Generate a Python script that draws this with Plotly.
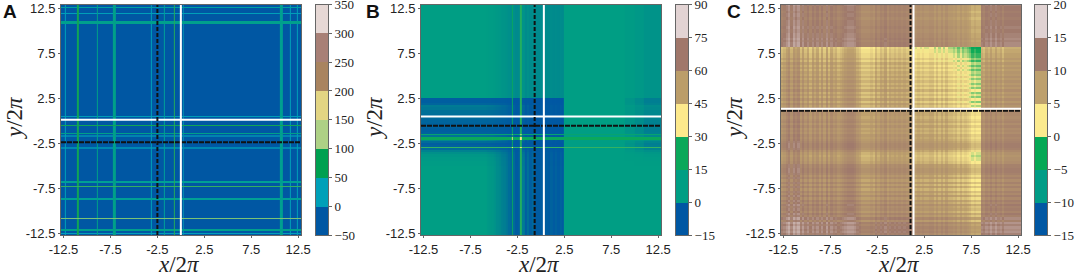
import numpy as np
import plotly.graph_objects as go

W, H = 1079, 277
TICKS = [-12.5, -7.5, -2.5, 2.5, 7.5, 12.5]
TICK_TEXT = ["-12.5", "-7.5", "-2.5", "2.5", "7.5", "12.5"]

# ---------- colour bars ----------
levels_a = [-50, 0, 50, 100, 150, 200, 250, 300, 350]
colors_a = ["#0057a3", "#00a0b8", "#00a050", "#aed185", "#e3d583", "#a9845f", "#a88076", "#e6d8d5"]
levels_b = [-15, 0, 15, 30, 45, 60, 75, 90]
colors_b = ["#0057a3", "#009e84", "#0ba85a", "#fde98c", "#bb9d69", "#a0776a", "#e2d3d3"]
levels_c = [-15, -10, -5, 0, 5, 10, 15, 20]
colors_c = ["#0057a3", "#009c86", "#05a855", "#fbea8e", "#bda06d", "#a07a6c", "#e0d2d2"]

# ---------- panel A: stripes (centre, width, value) ----------
a_x_pos = [-12.29, -10.95, -8.88, -7.10, -3.14, -1.72, -0.66, 0.30, 10.69, 11.68, 12.39]
a_x_wid = [0.12, 0.16, 0.14, 0.34, 0.12, 0.12, 0.10, 0.10, 0.34, 0.12, 0.12]
a_x_val = [25, 80, 48, 48, 25, 40, 85, 12, 44, 24, 24]
a_y_pos = [12.61, 11.94, 10.90, 0.52, -0.48, -1.40, -1.70, -3.00, -6.79, -7.27, -8.75, -10.86, -12.16, -12.55]
a_y_wid = [0.16, 0.13, 0.34, 0.10, 0.12, 0.16, 0.25, 0.22, 0.28, 0.12, 0.22, 0.12, 0.14, 0.20]
a_y_val = [36, 24, 46, 22, 80, 48, 5, 8, 42, 90, 42, 110, 46, 24]
a_background = -25
a_lines = {"black_x": -2.5, "black_y": -2.4, "white_x": 0.0, "white_y": 0.12}

# ---------- panel B: block depth profiles, stripes ----------
b_background = 7.5
b_x_edges = [-13.0, -6.0, -5.75, -5.5, -5.25, -5.0, -4.75, -4.5, -4.25, -4.0, -3.75, -3.5, -3.25, -3.0, -2.75, -2.5,
             -2.25, -2.0, -1.75, -1.5, -1.25, -1.0, -0.75, -0.5, -0.25, 0.0, 0.25, 0.5, 0.75, 1.0, 1.25, 1.5, 1.75,
             2.0, 2.25, 2.5, 9.0, 10.0, 11.0, 13.0]
b_x_depth = [0, 0, 0.05, 0.08, 0.1, 0.15, 0.25, 0.3, 0.4, 0.45, 0.55, 0.7, 0.85, 0.7, 0.95, 0.9, 0.6, 0.5, 0.9, 0.65,
             0.9, 0.75, 0.95, 0.95, 0.95, 0.95, 0.95, 0.9, 0.95, 0.85, 0.95, 0.85, 0.95, 0.85, 0.95, 0, 0.15, 0.3, 0.5]
b_y_edges = [-13.0, -5.0, -4.5, -4.0, -3.75, -3.5, -3.25, -3.0, -2.75, -2.5, -2.25, -2.0, -1.75, -1.5, -1.25, -1.0,
             -0.75, -0.5, -0.25, 0.0, 0.25, 0.5, 0.75, 1.0, 1.25, 1.5, 1.75, 2.0, 2.25, 2.5, 13.0]
b_y_depth = [0, 0.03, 0.05, 0.1, 0.2, 0.4, 0.7, 0.85, 0.9, 0.7, 0.3, 0.3, 0.6, 0.85, 0.9, 0.9, 0.85, 0.85, 0.8, 0.8,
             0.75, 0.7, 0.65, 0.65, 0.55, 0.5, 0.8, 0.9, 0.9, 0.3]
b_x_pos = [-3.07, -2.18]
b_x_wid = [0.12, 0.22]
b_x_val = [20, 24]
b_y_pos = [-1.93, -2.93, -1.55]
b_y_wid = [0.32, 0.12, 0.1]
b_y_val = [22, 25, 15]
b_lines = {"black_x": -0.66, "black_y": -0.55, "white_x": 0.32, "white_y": 0.47}

# ---------- panel C: stripe profiles ----------
c_base = 12.5
c_x_start, c_y_start = -12.75, -12.75
c_step = 0.25
c_x_profile = [-1.0, -0.5, 0.5, 1.5, -0.5, 1.5, 0.5, 1.5,
               -1.0, 0.5, -1.0, 0, -1.5, 0, -1.0, 0,
               -1.5, 0, -1.5, 0.5, -1.5, 0, -1.0, -0.5,
               -1.5, -1, -0.5, 0, 0.5, 0.5, 0.5, 0,
               -1.0, -1.5, -2.5, -2.5, -2.5, -2.5, -2, -2.5,
               -1.0, -2, -1, -1.5, -0.5, -2, -1, -1.5,
               -1, -1.5, -1, -1.5, -1, -1.5, -1.5, -1.5,
               -2.5, -3, -2.5, -3, -2.5, -3, -3, -2.5,
               -2.5, -3.5, -2.5, -3.5, -2.5, -3.5, -2.5, -3.5,
               -3.5, -4, -3.5, -4.5, -3.5, -4.5, -4, -4.5,
               -5, -6, -5.5, -6, -6,
               -0.5, -1, 0, -0.5, 0.5, -0.5, 0.5, -0.5, 0, -1,
               0, 0, 0, 0, 0, 0, 0, 0]
c_y_profile = [0.5, 1.5, 1, 1.5, 0.5, 1.5, -1, 1,
               -1.0, 0, -1.5, -0.5, -1.0, 0, -1.5, -0.5,
               -2, -0.5, -2, -1, -2.5, -1, -2.5, -1,
               -2.5, -1, -2, -1, -0.5, -0.5, -1, -1,
               -2.5, -3, -3, -3.5, -3, -2, -1, -0.5,
               -0.5, -1, -1.5, -2, -1.5, -2.5, -2, -2.5,
               -1.5, -2.5, -1.5, -2, -2.5, -2, -2, -2,
               -2.5, -3.5, -2.5, -4, -2.5, -4, -3, -4,
               -2.5, -4, -3, -4, -3, -4, -3, -4,
               -3.5, -4.5, -3.5, -4.5, -3.5, -5, -4, -5,
               -5, -5.5, -5.5, -6,
               1, 1, 0.5, 1, 0.5, 0.5, 0, 0, 0.5, 0, 0, 0, -0.5, 0, 0, -0.5, 0, 0, 0.5, 0, 0]
c_mix = 0.1
c_lines = {"black_x": 1.04, "black_y": 1.12, "white_x": 1.36, "white_y": 1.34}

# ---------- pixel layout ----------
panels = [
    dict(l=61, r=301, t=4.5, b=235, xr=[-12.77, 12.8], yr=[-12.72, 12.94], cb=316, letter="A", lx=3),
    dict(l=421, r=661, t=4.5, b=235, xr=[-12.77, 12.8], yr=[-12.72, 12.94], cb=676, letter="B", lx=366),
    dict(l=781, r=1021, t=4.5, b=235, xr=[-12.75, 12.8], yr=[-12.72, 12.94], cb=1035, letter="C", lx=727),
]


def ramp(colors):
    n = len(colors)
    return [[0, colors[0]]] + [[(i + 0.5) / n, c] for i, c in enumerate(colors)] + [[1, colors[-1]]]


def steps(colors):
    n = len(colors)
    out = []
    for i, c in enumerate(colors):
        out += [[i / n, c], [(i + 1) / n, c]]
    return out


def stripes(pos, wid, val, bg, lo=-13.0, hi=13.0):
    order = np.argsort(pos)
    edges, vals = [lo], []
    for k in order:
        a, b = pos[k] - wid[k] / 2, pos[k] + wid[k] / 2
        edges += [a, b]
        vals += [bg, val[k]]
    edges.append(hi)
    vals.append(bg)
    return np.array(edges), np.array(vals, float)


# panel A grid
ax_e, ax_v = stripes(a_x_pos, a_x_wid, a_x_val, a_background)
ay_e, ay_v = stripes(a_y_pos, a_y_wid, a_y_val, a_background)
z_a = np.maximum.outer(ay_v, ax_v)

# panel B grid: merged cell edges
bx_s_e, bx_s_v = stripes(b_x_pos, b_x_wid, b_x_val, b_background)
by_s_e, by_s_v = stripes(b_y_pos, b_y_wid, b_y_val, b_background)
bx_e = np.unique(np.concatenate([b_x_edges, bx_s_e]))
by_e = np.unique(np.concatenate([b_y_edges, by_s_e]))
bxc, byc = (bx_e[:-1] + bx_e[1:]) / 2, (by_e[:-1] + by_e[1:]) / 2
dx = np.array(b_x_depth)[np.searchsorted(b_x_edges, bxc) - 1]
dy = np.array(b_y_depth)[np.searchsorted(b_y_edges, byc) - 1]
sx = bx_s_v[np.searchsorted(bx_s_e, bxc) - 1]
sy = by_s_v[np.searchsorted(by_s_e, byc) - 1]
DX, DY = np.meshgrid(dx, dy)
XC, YC = np.meshgrid(bxc, byc)
inside = (XC < 2.5) & (YC < 2.5)
depth = np.where(inside, 1 - (1 - DX) * (1 - DY), DX * DY)
z_b = b_background - 15 * depth
SX, SY = np.meshgrid(sx, sy)
z_b = np.maximum(z_b, np.where((SX > b_background) | (SY > b_background), SX + SY - b_background, -99))

# panel C grid
fx = np.array(c_x_profile, float)
fy = np.array(c_y_profile, float)
cx_e = c_x_start + c_step * np.arange(len(fx) + 1)
cy_e = c_y_start + c_step * np.arange(len(fy) + 1)
FX, FY = np.meshgrid(fx, fy)
z_c = c_base + FX + FY - c_mix * np.maximum(-FX, 0) * np.maximum(-FY, 0)

fig = go.Figure()
grids = [
    (ax_e, ay_e, z_a, levels_a, colors_a, a_lines),
    (bx_e, by_e, z_b, levels_b, colors_b, b_lines),
    (cx_e, cy_e, z_c, levels_c, colors_c, c_lines),
]

layout = dict(
    width=W, height=H, margin=dict(l=0, r=0, t=0, b=0, autoexpand=False), paper_bgcolor="white", plot_bgcolor="white",
    showlegend=False, font=dict(family="Liberation Sans", size=13, color="#222222"),
)
annotations = []

for i, (p, g) in enumerate(zip(panels, grids)):
    xe, ye, z, lv, cols, ln = g
    n = "" if i == 0 else str(i + 1)
    xa, ya = "x" + n, "y" + n
    fig.add_trace(go.Heatmap(
        z=z, x=xe, y=ye, xaxis=xa, yaxis=ya, zmin=lv[0], zmax=lv[-1],
        colorscale=ramp(cols), showscale=False, hoverinfo="skip",
    ))
    x0, x1 = p["xr"]
    y0, y1 = p["yr"]
    fig.add_trace(go.Scatter(x=[x0, x1], y=[ln["black_y"]] * 2, mode="lines", xaxis=xa, yaxis=ya,
                             line=dict(color="#111111", width=2, dash="5px,1px"), hoverinfo="skip"))
    fig.add_trace(go.Scatter(x=[x0, x1], y=[ln["white_y"]] * 2, mode="lines", xaxis=xa, yaxis=ya,
                             line=dict(color="white", width=2), hoverinfo="skip"))
    fig.add_trace(go.Scatter(x=[ln["white_x"]] * 2, y=[y0, y1], mode="lines", xaxis=xa, yaxis=ya,
                             line=dict(color="white", width=2), hoverinfo="skip"))
    fig.add_trace(go.Scatter(x=[ln["black_x"]] * 2, y=[y0, y1], mode="lines", xaxis=xa, yaxis=ya,
                             line=dict(color="#111111", width=2, dash="4px,2px"), hoverinfo="skip"))
    common = dict(showgrid=False, zeroline=False, showline=True, linecolor="#666666", linewidth=1, mirror=True,
                  ticks="outside", ticklen=2, tickwidth=1, tickcolor="#666666", tickmode="array",
                  ticklabeloverflow="allow",
                  tickvals=TICKS, ticktext=TICK_TEXT, tickfont=dict(family="Liberation Sans", size=13, color="#222222"))
    layout["xaxis" + n] = dict(domain=[p["l"] / W, p["r"] / W], range=p["xr"], anchor=ya, **common)
    layout["yaxis" + n] = dict(domain=[1 - p["b"] / H, 1 - p["t"] / H], range=p["yr"], anchor=xa, **common)

    # colour bar drawn as its own narrow band axis
    m = str(i + 4)
    mids = [(a + b) / 2 for a, b in zip(lv[:-1], lv[1:])]
    fig.add_trace(go.Heatmap(
        z=[[v] for v in mids], x=[0, 1], y=lv, xaxis="x" + m, yaxis="y" + m, zmin=lv[0], zmax=lv[-1],
        colorscale=steps(cols), showscale=False, hoverinfo="skip",
    ))
    layout["xaxis" + m] = dict(domain=[p["cb"] / W, (p["cb"] + 12) / W], range=[0, 1], anchor="y" + m,
                               showticklabels=False, ticks="", showgrid=False, zeroline=False,
                               showline=True, linecolor="#666666", linewidth=1, mirror=True)
    layout["yaxis" + m] = dict(domain=[1 - p["b"] / H, 1 - p["t"] / H], range=[lv[0], lv[-1]], anchor="x" + m,
                               side="right", tickmode="array", tickvals=lv, ticks="outside", ticklen=3,
                               tickwidth=1, tickcolor="#666666", showgrid=False, zeroline=False,
                               showline=True, linecolor="#666666", linewidth=1, mirror=True,
                               ticklabeloverflow="allow",
                               tickfont=dict(family="Liberation Serif", size=13, color="#222222"))

    annotations.append(dict(text="<i>x</i>/2<i>π</i>", xref="paper", yref="paper", showarrow=False,
                            x=(p["l"] + p["r"] - 4) / 2 / W, y=1 - 264.5 / H, yanchor="middle", xanchor="center",
                            borderpad=0, font=dict(family="Liberation Serif", size=23, color="#222222")))
    annotations.append(dict(text="<i>y</i>/2<i>π</i>", xref="paper", yref="paper", showarrow=False, textangle=-90,
                            x=(p["l"] - 47) / W, y=1 - 118 / H, yanchor="middle", xanchor="center",
                            borderpad=0, font=dict(family="Liberation Serif", size=23, color="#222222")))
    annotations.append(dict(text="<b>%s</b>" % p["letter"], xref="paper", yref="paper", showarrow=False,
                            x=p["lx"] / W, y=1 - 11 / H, xanchor="left", yanchor="middle", xshift=-2,
                            font=dict(family="Liberation Sans", size=19, color="#111111")))

layout["annotations"] = annotations
fig.update_layout(**layout)
fig.write_html("out.html", config=dict(displayModeBar=False),
               post_script="document.body.style.margin='0';document.documentElement.style.overflow='hidden';")
